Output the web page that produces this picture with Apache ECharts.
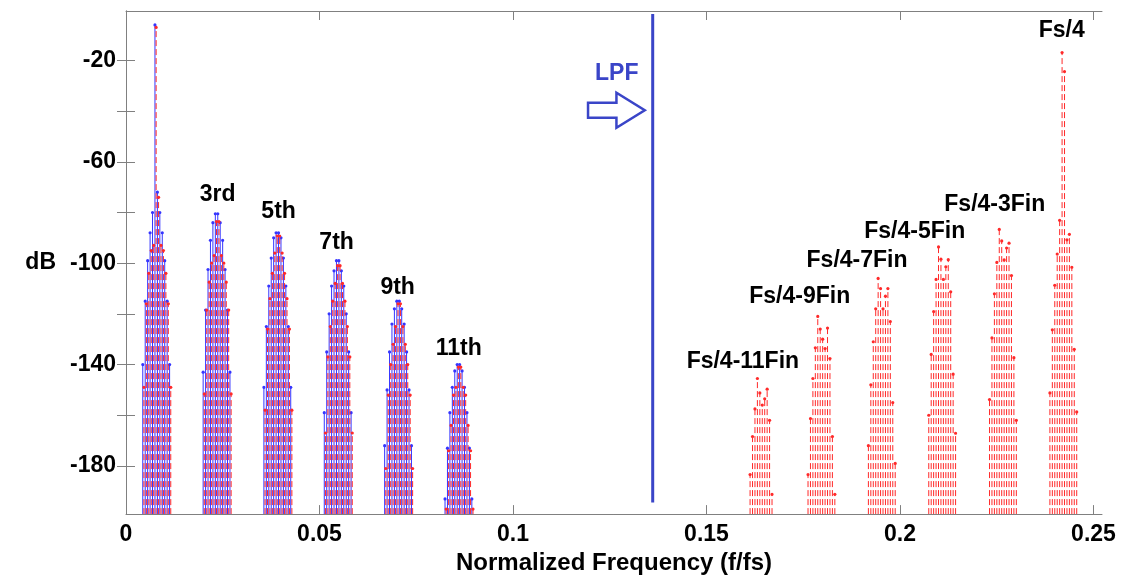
<!DOCTYPE html>
<html><head><meta charset="utf-8">
<script src="https://cdn.jsdelivr.net/npm/echarts@6/dist/echarts.min.js"></script>
<style>html,body{margin:0;padding:0;background:#fff}#c{width:1128px;height:580px}</style>
</head><body><div id="c"></div>
<script>
// ---------- data ----------
const xTickValues = [0, 0.05, 0.1, 0.15, 0.2, 0.25];
const yLabelValues = [-180, -140, -100, -60, -20];
const yTickValues = [-180, -160, -140, -120, -100, -80, -60, -40, -20];

// harmonic groups (blue = solid stems, red = dashed stems)
const harmonicCenters = [0.0078, 0.0234, 0.0391, 0.0547, 0.0703, 0.0859];
const binOffsets = [-0.003465, -0.002835, -0.002205, -0.001575, -0.000945, -0.000315,
                     0.000315, 0.000945, 0.001575, 0.002205, 0.002835, 0.003465];
const redShift = 0.0003;
const blueFund = [-140, -115, -99, -88, -80, -6, -72, -80, -88, -99, -115, -140];
const redFund  = [-149, -116, -104, -95, -93, -7, -74, -93, -95, -104, -116, -149];
const blueH3 = [-143, -118.5, -102.5, -91, -84, -80.5, -80.5, -84, -91, -102.5, -118.5, -143];
const redH3  = [-151.6, -118.5, -107.5, -100, -97, -83.6, -83.6, -97, -100, -107.5, -118.5, -151.6];
const blueH5 = [-149, -125, -109, -98, -90, -88, -88, -90, -98, -109, -125, -149];
const redH5  = [-158, -126, -114, -104, -96, -89.3, -89.3, -96, -104, -114, -126, -158];
const blueH7 = [-159, -135, -120, -109, -103, -99, -99, -103, -109, -120, -135, -159];
const redH7  = [-167, -137, -125, -115, -108, -101, -101, -108, -115, -125, -137, -167];
const blueH9 = [-172, -150, -135, -124, -118, -115, -115, -118, -124, -135, -150, -172];
const redH9  = [-181, -152, -140, -132, -125, -116, -116, -125, -132, -140, -152, -181];
const blueH11 = [-193, -173, -159, -149, -142.5, -140, -140, -142.5, -149, -159, -173, -193];
const redH11  = [-197, -174, -164, -152, -149, -141, -141, -149, -152, -164, -174, -197];

// image groups around Fs/4 (red dashed stems only)
const imageCenters = [0.1641, 0.1797, 0.1953, 0.2109, 0.2266, 0.2422];
const imgM11 = [null, -183.4, -168.4, -157.5, -145.5, -151.2, -156, -153.5, -149.7, -162, -191.2, null];
const imgM9  = [-183.4, -161.3, -145.5, -133.4, -121, -126, -130, -133.7, -125.6, -137.6, -168.4, -191.2];
const imgM7  = [-172, -148, -131, -118, -106, -110, -118, -113, -110, -123, -155, -179];
const imgM5  = [-160, -136, -119.1, -106.4, -93.6, -98.4, -106.4, -101.4, -98.6, -111.3, -143.8, -167.1];
const imgM3  = [-153.8, -129.5, -112.1, -99.7, -86.7, -91.2, -98.7, -94, -92.1, -104.9, -137.3, -162];
const imgFs4 = [-151.2, -126.3, -108.7, -96.4, -83.1, -16.9, -24.4, -90.8, -88.6, -101.6, -134, -158.7];

// LPF cutoff
const lpfFreq = 0.1361;
const lpfRange = [-1.7, -194.4];

// annotations
const labelTexts = ['3rd', '5th', '7th', '9th', '11th', 'Fs/4-11Fin', 'Fs/4-9Fin', 'Fs/4-7Fin', 'Fs/4-5Fin', 'Fs/4-3Fin', 'Fs/4'];
const labelX = [0.02366, 0.03943, 0.05442, 0.0702, 0.0860, 0.1594, 0.1741, 0.1889, 0.2038, 0.2245, 0.2418];
const labelY = [-72.9, -79.6, -92, -109.5, -133.7, -138.7, -113.4, -99, -87.7, -76.8, -8.3];

// ---------- build ----------
const Y_MIN = -199, Y_MAX = -0.5, X_MIN = 0, X_MAX = 0.2522;
const FONT = "'Liberation Sans', Arial, Helvetica, sans-serif";
const BLUE = '#3535ff', RED = '#ff2a2a', LPF_BLUE = '#3a45c8', AXIS = '#808080';

function stems(centers, groups, shift) {
  const out = [];
  groups.forEach((vals, g) => {
    vals.forEach((v, i) => {
      if (v !== null) out.push([centers[g] + binOffsets[i] + shift, v]);
    });
  });
  return out;
}
const blueData = stems(harmonicCenters, [blueFund, blueH3, blueH5, blueH7, blueH9, blueH11], 0);
const redData = stems(harmonicCenters, [redFund, redH3, redH5, redH7, redH9, redH11], redShift)
  .concat(stems(imageCenters, [imgM11, imgM9, imgM7, imgM5, imgM3, imgFs4], 0));

function stemRenderer(color, dashed) {
  return function (params, api) {
    const x = api.value(0), y = api.value(1);
    const top = api.coord([x, y]);
    const base = api.coord([x, Y_MIN]);
    return {
      type: 'group',
      children: [
        { type: 'line', shape: { x1: top[0], y1: base[1], x2: top[0], y2: top[1] },
          style: { stroke: color, lineWidth: 1, lineDash: dashed ? [6, 3] : null } },
        { type: 'circle', shape: { cx: top[0], cy: top[1], r: 1.6 },
          style: { fill: color, stroke: null } }
      ]
    };
  };
}

const chart = echarts.init(document.getElementById('c'), null, { renderer: 'canvas' });
const labelStyle = { color: '#000', fontFamily: FONT, fontWeight: 'bold', fontSize: 23 };
const annStyle = { ...labelStyle, textBorderWidth: 0, textBorderColor: 'transparent', opacity: 1 };

chart.setOption({
  animation: false,
  backgroundColor: '#fff',
  grid: { left: 126, right: 26, top: 11, bottom: 59, containLabel: false },
  xAxis: [
    { type: 'value', min: X_MIN, max: X_MAX, position: 'bottom',
      name: 'Normalized Frequency (f/fs)', nameLocation: 'middle', nameGap: 36,
      nameTextStyle: { color: '#000', fontFamily: FONT, fontWeight: 'bold', fontSize: 24 },
      axisLine: { show: true, lineStyle: { color: AXIS, width: 1 } },
      axisTick: { show: true, inside: true, length: 9, customValues: xTickValues, lineStyle: { color: AXIS } },
      axisLabel: { show: true, customValues: xTickValues, margin: 9, ...labelStyle },
      splitLine: { show: false } },
    { type: 'value', min: X_MIN, max: X_MAX, position: 'top',
      axisLine: { show: true, lineStyle: { color: AXIS, width: 1 } },
      axisTick: { show: true, inside: true, length: 9, customValues: xTickValues, lineStyle: { color: AXIS } },
      axisLabel: { show: false }, splitLine: { show: false } }
  ],
  yAxis: [
    { type: 'value', min: Y_MIN, max: Y_MAX, position: 'left',
      name: 'dB', nameLocation: 'middle', nameGap: 70, nameRotate: 0,
      nameTextStyle: { color: '#000', fontFamily: FONT, fontWeight: 'bold', fontSize: 23 },
      axisLine: { show: true, lineStyle: { color: AXIS, width: 1 } },
      axisTick: { show: true, inside: true, length: 9, customValues: yTickValues, lineStyle: { color: AXIS } },
      axisLabel: { show: true, customValues: yLabelValues, margin: 10, ...labelStyle },
      splitLine: { show: false } },
    { type: 'value', min: Y_MIN, max: Y_MAX, position: 'right',
      axisLine: { show: true, lineStyle: { color: AXIS, width: 1 } },
      axisTick: { show: true, inside: true, length: 9, customValues: yTickValues, lineStyle: { color: AXIS } },
      axisLabel: { show: false }, splitLine: { show: false } }
  ],
  series: [
    { type: 'custom', name: 'blue', renderItem: stemRenderer(BLUE, false), data: blueData,
      xAxisIndex: 0, yAxisIndex: 0, clip: true, z: 2 },
    { type: 'custom', name: 'red', renderItem: stemRenderer(RED, true), data: redData,
      xAxisIndex: 0, yAxisIndex: 0, clip: true, z: 3 },
    { type: 'line', name: 'LPF', data: [[lpfFreq, lpfRange[0]], [lpfFreq, lpfRange[1]]],
      showSymbol: false, symbol: 'none', lineStyle: { color: LPF_BLUE, width: 3 }, z: 4 },
    { type: 'scatter', name: 'labels', symbolSize: 0, z: 5,
      itemStyle: { color: '#000', opacity: 1 },
      data: labelTexts.map((t, i) => ({ name: t, value: [labelX[i], labelY[i]] })),
      label: { show: true, position: 'inside', formatter: p => p.name, ...annStyle } },
    { type: 'scatter', name: 'lpfLabel', symbolSize: 0, z: 5,
      itemStyle: { color: LPF_BLUE, opacity: 1 },
      data: [{ name: 'LPF', value: [0.1268, -25.4] }],
      label: { show: true, position: 'inside', formatter: p => p.name, ...annStyle, color: LPF_BLUE } }
  ]
});

// hollow arrow pointing at the LPF line
const a = chart.convertToPixel({ gridIndex: 0 }, [0.12673, -39.66]);
const rel = [[-28.4, -7.5], [0, -7.5], [0, -17.5], [28.3, 0], [0, 17.5], [0, 7.5], [-28.4, 7.5]];
chart.setOption({
  graphic: [{
    type: 'polygon', z: 10,
    shape: { points: rel.map(p => [a[0] + p[0], a[1] + p[1]]) },
    style: { fill: '#fff', stroke: LPF_BLUE, lineWidth: 2.5, lineJoin: 'miter' }
  }]
});
</script></body></html>
